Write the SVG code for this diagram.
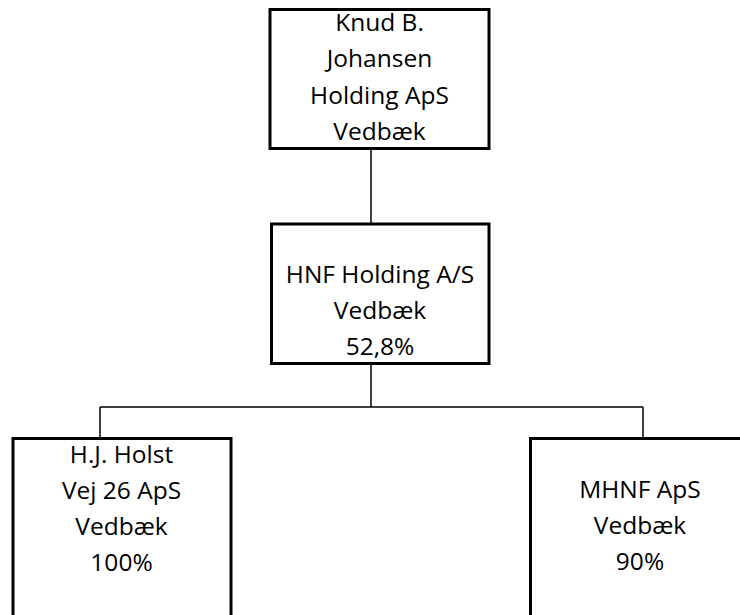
<svg xmlns="http://www.w3.org/2000/svg" width="740" height="615" viewBox="0 0 740 615">
<style>
.box{fill:#ffffff;stroke:#000000;stroke-width:3}
.conn{stroke:#000000;stroke-width:1.5;fill:none}
text{font-family:"Open Sans","Liberation Sans",Arial,sans-serif;font-size:24.5px;fill:#000000;text-anchor:middle}
</style>
<rect width="740" height="615" fill="#ffffff"/>
<g id="connectors">
<line class="conn" x1="371" y1="150" x2="371" y2="223"/>
<line class="conn" x1="371" y1="365" x2="371" y2="407"/>
<line class="conn" x1="100" y1="407" x2="643" y2="407"/>
<line class="conn" x1="100" y1="407" x2="100" y2="437"/>
<line class="conn" x1="643" y1="407" x2="643" y2="437"/>
</g>
<g id="node-knud">
<rect class="box" x="270" y="9.5" width="219" height="139"/>
<text x="379.5" y="31">Knud B.</text>
<text x="379.5" y="67">Johansen</text>
<text x="379.5" y="104">Holding ApS</text>
<text x="379.5" y="140">Vedbæk</text>
</g>
<g id="node-hnf">
<rect class="box" x="271.5" y="224" width="217.5" height="139.5"/>
<text x="380" y="283">HNF Holding A/S</text>
<text x="380" y="319">Vedbæk</text>
<text x="380" y="355">52,8%</text>
</g>
<g id="node-hjholst">
<rect class="box" x="13" y="438.5" width="218" height="200"/>
<text x="121.5" y="463">H.J. Holst</text>
<text x="121.5" y="499">Vej 26 ApS</text>
<text x="121.5" y="535">Vedbæk</text>
<text x="121.5" y="571">100%</text>
</g>
<g id="node-mhnf">
<rect class="box" x="530.5" y="438.5" width="220" height="200"/>
<text x="640" y="498">MHNF ApS</text>
<text x="640" y="534">Vedbæk</text>
<text x="640" y="570">90%</text>
</g>
</svg>
